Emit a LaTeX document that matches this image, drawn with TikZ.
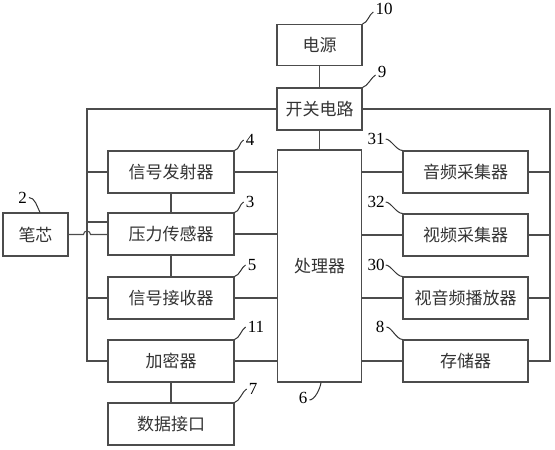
\documentclass[tikz,border=0pt]{standalone}
\usepackage{fontspec}
\setmainfont{Liberation Serif}
\newfontfamily\cjk{Noto Sans CJK SC}
\usetikzlibrary{calc}

\begin{document}
\begin{tikzpicture}[x=1pt,y=-1pt,
      box/.style={rectangle,draw=black!70,line width=1.1pt,inner sep=0pt,
                  minimum width=126pt,minimum height=42pt,text=black!80,
                  font=\cjk\fontsize{17}{19}\selectfont},
      num/.style={inner sep=0pt,font=\fontsize{17}{18}\selectfont},
      wire/.style={draw=black!70,line width=1.1pt},
      tag/.style={draw=black!80,line width=1pt},
    ]
  \useasboundingbox (0,0) rectangle (555,450);
  % middle column
  \node[box,minimum width=85pt,minimum height=41pt] (power) at (319.5,45) {电源};
  \node[box,minimum width=85pt] (switch) at (319.5,109) {开关电路};
  \node[box,minimum width=84pt,minimum height=232pt] (cpu) at (319.5,266) {处理器};
  % left column
  \node[box] (tx) at (171,172) {信号发射器};
  \node[box] (sensor) at (171,234) {压力传感器};
  \node[box] (rx) at (171,298) {信号接收器};
  \node[box] (enc) at (171,361) {加密器};
  \node[box] (port) at (171,424) {数据接口};
  \node[box,minimum width=65pt,minimum height=43pt] (nib) at (35.5,234.5) {笔芯};
  % right column
  \node[box,minimum width=125pt] (audio) at (465.5,172) {音频采集器};
  \node[box,minimum width=125pt] (video) at (465.5,235) {视频采集器};
  \node[box,minimum width=125pt] (player) at (465.5,298) {视音频播放器};
  \node[box,minimum width=125pt] (mem) at (465.5,361) {存储器};

  % buses
  \coordinate (lbus) at (87,109);
  \coordinate (rbus) at (550,109);
  \coordinate (sin) at ([yshift=12pt]sensor.west);
  \draw[wire] (power) -- (switch);
  \draw[wire] (switch) -- (cpu);
  \draw[wire] (switch.west) -- (lbus) |- (enc.west);
  \draw[wire] (switch.east) -- (rbus) |- (mem.east);
  \draw[wire] (lbus |- tx.west) -- (tx.west);
  \draw[wire] (lbus |- sin) -- (sin);
  \draw[wire] (lbus |- rx.west) -- (rx.west);
  \draw[wire] (nib.east) -- ([xshift=-3.5pt]lbus |- nib.east)
     arc[start angle=180,end angle=0,radius=3.5pt] -- (sensor.west |- nib.east);
  \foreach \n in {audio,video,player}
    \draw[wire] (\n.east) -- (rbus |- \n.east);
  % to the processor
  \foreach \n in {tx,sensor,rx,enc}
    \draw[wire] (\n.east) -- (cpu.west |- \n.east);
  \foreach \n in {audio,video,player,mem}
    \draw[wire] (cpu.east |- \n.west) -- (\n.west);
  \draw[wire] (tx) -- (sensor);
  \draw[wire] (sensor) -- (rx);
  \draw[wire] (enc) -- (port);

  % reference numbers
  \node[num] (n10) at (384,9) {10};
  \node[num] (n9) at (382,72) {9};
  \node[num] (n4) at (250,140) {4};
  \node[num] (n3) at (250,202) {3};
  \node[num] (n5) at (252,265) {5};
  \node[num] (n11) at (256,327) {11};
  \node[num] (n7) at (253,389) {7};
  \node[num] (n2) at (22.5,197.5) {2};
  \node[num] (n6) at (303,398) {6};
  \node[num] (n31) at (376,139) {31};
  \node[num] (n32) at (376,202) {32};
  \node[num] (n30) at (376,265) {30};
  \node[num] (n8) at (380,327) {8};
  \draw[tag] (power.north east) .. controls +(5,-1) and +(-4,2) .. ([xshift=-2pt,yshift=-3pt]n10.west);
  \draw[tag] (switch.north east) .. controls +(5,-1) and +(-4,2) .. ([xshift=-2pt,yshift=-3pt]n9.west);
  \draw[tag] (tx.north east) .. controls +(5,-1) and +(-4,2) .. ([xshift=-2pt]n4.west);
  \draw[tag] (sensor.north east) .. controls +(5,-1) and +(-4,2) .. ([xshift=-2pt]n3.west);
  \draw[tag] (rx.north east) .. controls +(5,-1) and +(-4,2) .. ([xshift=-2pt]n5.west);
  \draw[tag] (enc.north east) .. controls +(5,-1) and +(-4,2) .. ([xshift=-2pt]n11.west);
  \draw[tag] (port.north east) .. controls +(5,-1) and +(-4,2) .. ([xshift=-2pt]n7.west);
  \draw[tag] ([xshift=2pt]n2.east) .. controls +(6,0) and +(-3,-6) .. (nib.north -| 40,0);
  \draw[tag] (cpu.south -| 321,0) .. controls +(-1,7) and +(5,0) .. ([xshift=2pt,yshift=-2pt]n6.east);
  \draw[tag] ([xshift=1pt]n31.east) .. controls +(5,0) and +(-6,0) .. (audio.north west);
  \draw[tag] ([xshift=1pt]n32.east) .. controls +(5,0) and +(-6,0) .. (video.north west);
  \draw[tag] ([xshift=1pt]n30.east) .. controls +(5,0) and +(-6,0) .. (player.north west);
  \draw[tag] ([xshift=2pt]n8.east) .. controls +(5,0) and +(-6,0) .. (mem.north west);
\end{tikzpicture}
\end{document}
